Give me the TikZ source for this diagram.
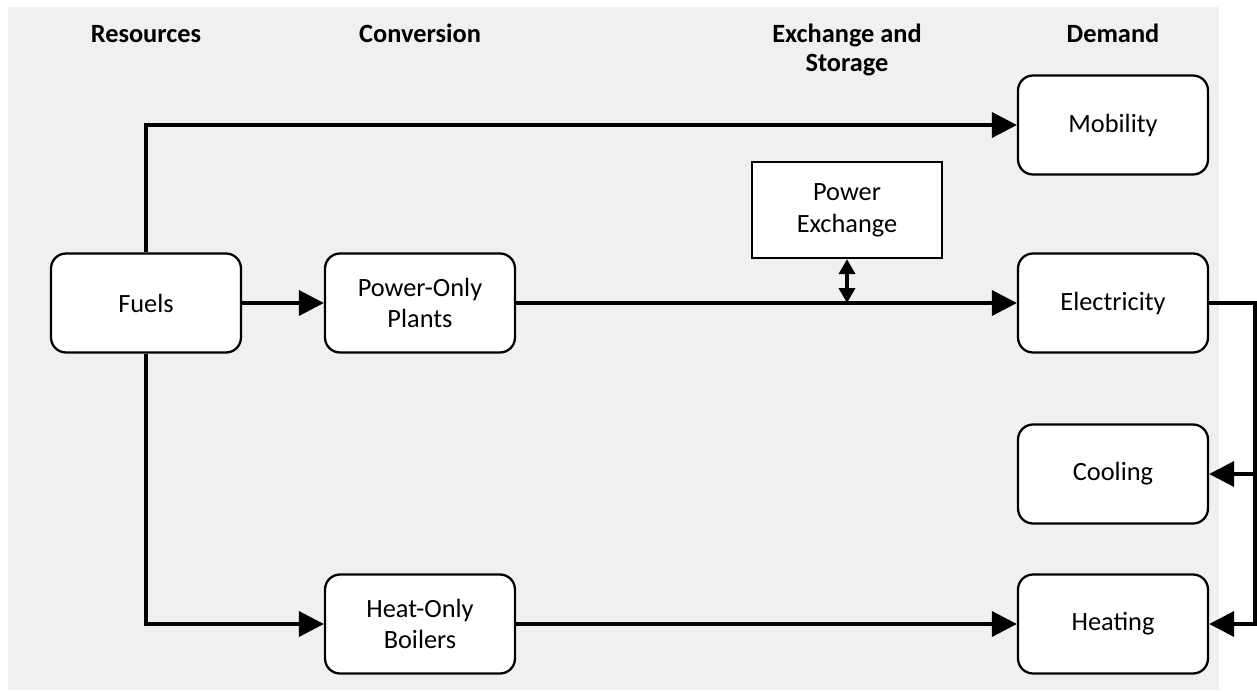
\documentclass[tikz,border=0pt]{standalone}
\usepackage{fontspec}
\setmainfont{Carlito}
\usetikzlibrary{arrows.meta}
\definecolor{panel}{HTML}{F0F0F0}
\tikzset{
  block/.style={draw, line width=1.3pt, fill=white, rounded corners=0.3cm,
    minimum width=3.8cm, minimum height=1.98cm, align=center},
  xbox/.style={draw, line width=1.3pt, fill=white,
    minimum width=3.8cm, minimum height=1.92cm, align=center},
  flow/.style={line width=2.1pt, -{Triangle[length=0.5cm,width=0.5cm]}},
  both/.style={line width=2.1pt,
    {Triangle[length=0.3cm,width=0.32cm]}-{Triangle[length=0.3cm,width=0.32cm]}},
  head/.style={font=\fontsize{15}{16.5}\selectfont\bfseries, anchor=base, align=center},
}
\begin{document}
\begin{tikzpicture}[x=0.02cm, y=-0.02cm, font=\fontsize{15}{18}\selectfont]
  \useasboundingbox (0,0) rectangle (1257,690);
  \fill[panel] (8,7) rectangle (1219,690);
  % column headers (base is the last line)
  \foreach \x/\y/\name/\label in {146/42/res/Resources, 420/42/conv/Conversion,
      847/71/exch/{Exchange and\\Storage}, 1113/42/dem/Demand}
    \node[head] (\name) at (\x,\y) {\label};
  % blocks
  \node[block] (fuels) at (146,303) {Fuels};
  \node[block] (pop) at (420,303) {Power-Only\\Plants};
  \node[block] (hob) at (420,624) {Heat-Only\\Boilers};
  \node[xbox] (pex) at (847,210) {Power\\Exchange};
  \node[block] (mob) at (1113,125) {Mobility};
  \node[block] (elec) at (1113,303) {Electricity};
  \node[block] (cool) at (1113,474) {Cooling};
  \node[block] (heat) at (1113,624) {Heating};
  % flows
  \draw[flow] (fuels.north) |- (mob.west);
  \draw[flow] (fuels.south) |- (hob.west);
  \draw[flow] (fuels) -- (pop);
  \draw[flow] (pop) -- (elec);
  \draw[flow] (hob) -- (heat);
  \coordinate (tap) at (pex.south |- elec.west);
  \draw[both] (pex.south) -- (tap);
  % electricity feeds cooling and heating
  \coordinate (bus) at (1255,303);
  \draw[flow] (elec.east) -- (bus) |- (heat.east);
  \draw[flow] (bus |- cool.east) -- (cool.east);
\end{tikzpicture}
\end{document}
